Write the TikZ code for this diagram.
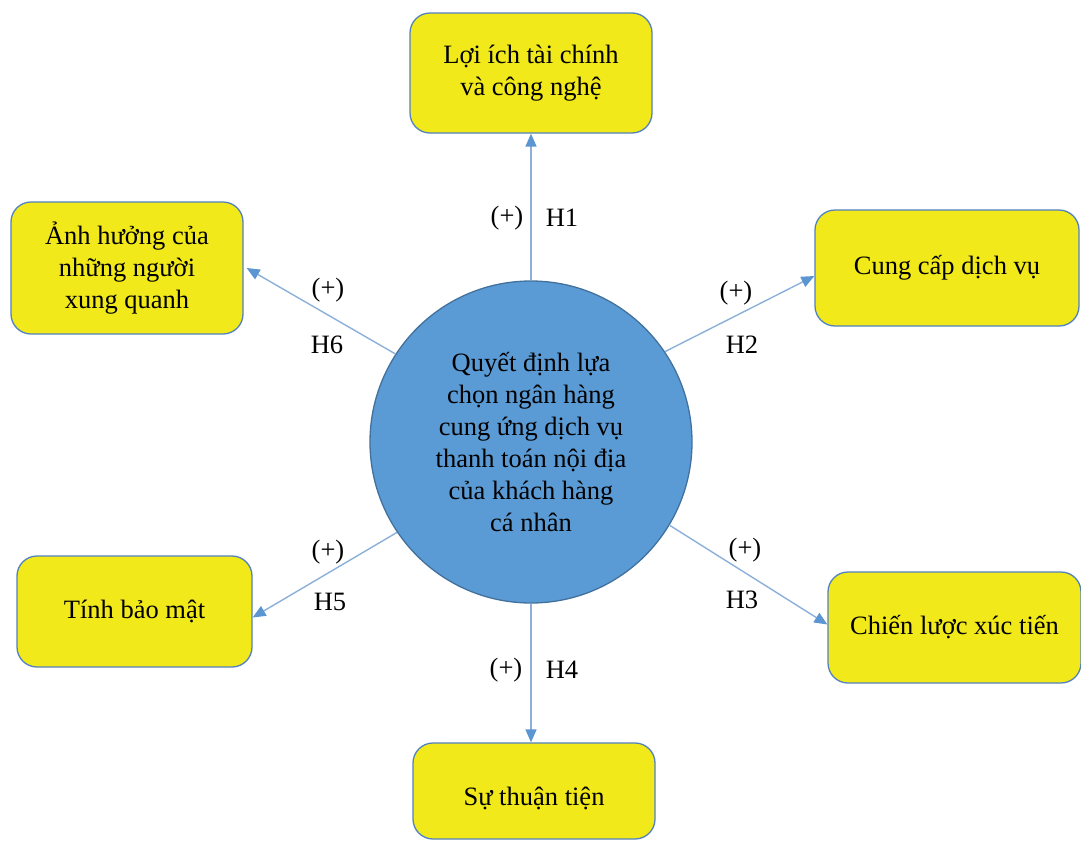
\documentclass[tikz,border=0pt]{standalone}
\usepackage{fontspec}
\setmainfont{Liberation Serif}
\usetikzlibrary{arrows.meta}
\definecolor{yel}{RGB}{241,233,26}
\definecolor{boxline}{RGB}{84,130,190}
\definecolor{circfill}{RGB}{91,155,213}
\definecolor{circline}{RGB}{65,113,156}
\definecolor{arrline}{RGB}{140,176,218}
\definecolor{arrhead}{RGB}{91,150,210}
\begin{document}
\begin{tikzpicture}[x=1pt,y=-1pt,
  txt/.style={font=\fontsize{26.5}{32}\selectfont, text=black},
  ybox/.style={txt, draw=boxline, fill=yel, line width=1.3pt, rounded corners=20pt, align=center, inner sep=0pt},
  hub/.style={txt, circle, draw=circline, fill=circfill, line width=1.3pt, align=center, inner sep=0pt, minimum size=322pt},
  conn/.style={draw=arrline, line width=1.4pt, -{Triangle[length=13pt,width=11pt,color=arrhead]}},
  lbl/.style={txt, inner sep=1pt}]
\useasboundingbox (0,0) rectangle (1081,841);
\fill[white] (0,0) rectangle (1081,841);

\node[hub] (c) at (531,442) {Quyết định lựa\\chọn ngân hàng\\cung ứng dịch vụ\\thanh toán nội địa\\của khách hàng\\cá nhân};

\node[ybox, minimum width=242pt, minimum height=120pt] (b1) at (531,73) {Lợi ích tài chính\\và công nghệ};
\node[ybox, minimum width=232pt, minimum height=132pt] (b6) at (127,268) {Ảnh hưởng của\\những người\\xung quanh};
\node[ybox, minimum width=264pt, minimum height=116pt] (b2) at (947,268) {Cung cấp dịch vụ};
\node[ybox, minimum width=235pt, minimum height=111pt] (b5) at (134.5,611.5) {Tính bảo mật};
\node[ybox, minimum width=253pt, minimum height=111pt] (b3) at (954.5,627.5) {Chiến lược xúc tiến};
\node[ybox, minimum width=242pt, minimum height=96pt] (b4) at (534,791) {\raisebox{-14pt}[0pt][0pt]{Sự thuận tiện}};

\draw[conn] (c.north) -- (c.north |- b1.south);
\draw[conn] (c.34) -- ([yshift=-8pt]b2.west);
\draw[conn] (c.-31) -- ([yshift=3pt]b3.west);
\draw[conn] (c.south) -- (c.south |- b4.north);
\draw[conn] (c.214) -- ([yshift=-6pt]b5.east);
\draw[conn] (c.147) -- ([xshift=3pt]b6.east);

\node[lbl] (p1) at (507,218) {(+)};
\node[lbl] (h1) at (562,218) {H1};
\node[lbl] (p2) at (736,293) {(+)};
\node[lbl] (h2) at (742,345) {H2};
\node[lbl] (p3) at (745,550) {(+)};
\node[lbl] (h3) at (742,600) {H3};
\node[lbl] (p4) at (506,670) {(+)};
\node[lbl] (h4) at (562,670) {H4};
\node[lbl] (p5) at (328,552) {(+)};
\node[lbl] (h5) at (330,602) {H5};
\node[lbl] (p6) at (328,290) {(+)};
\node[lbl] (h6) at (327,345) {H6};
\end{tikzpicture}
\end{document}
